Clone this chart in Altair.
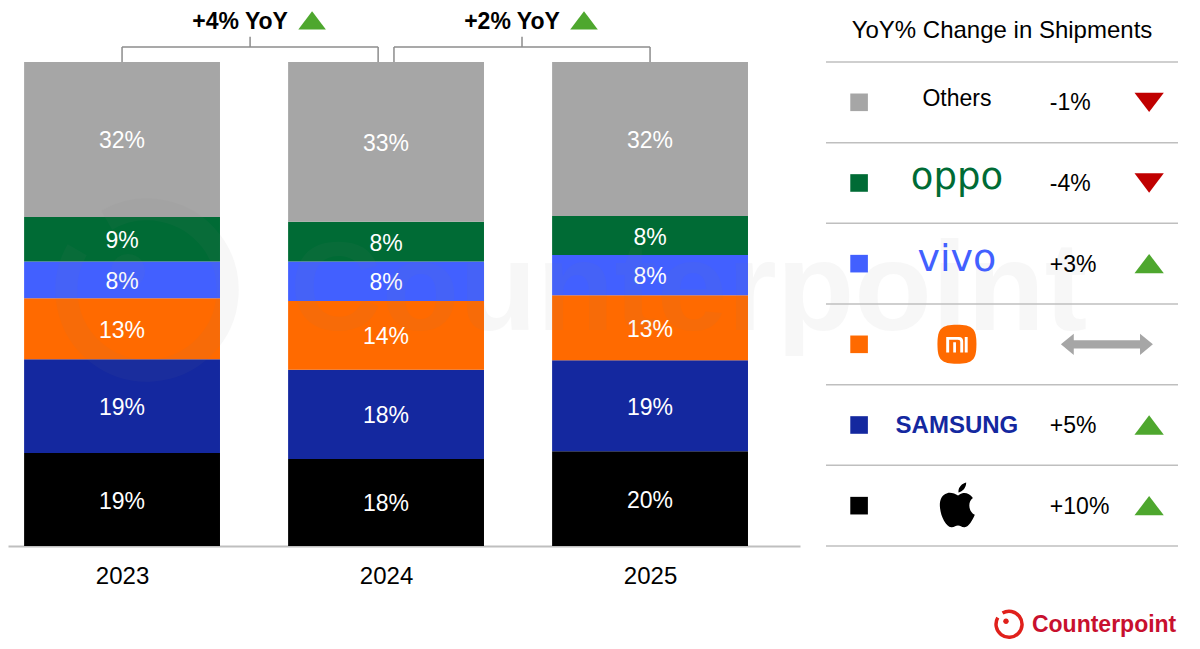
import altair as alt
import pandas as pd

# ---------------- data ----------------
years = [2023, 2024, 2025]
brands = ["Apple", "Samsung", "Xiaomi", "vivo", "OPPO", "Others"]          # bottom -> top
share_2023 = [19.2, 19.4, 12.6, 7.6, 9.2, 32.0]
share_2024 = [18.0, 18.4, 14.2, 8.2, 8.2, 33.0]
share_2025 = [19.6, 18.8, 13.4, 8.3, 8.1, 31.8]
yoy_change = [10, 5, 0, 3, -4, -1]                                          # 2025 vs 2024, per brand
brand_colors = ["#000000", "#14289f", "#ff6a00", "#4260ff", "#006b35", "#a6a6a6"]
period_from = [2023, 2024]
period_to = [2024, 2025]
period_yoy = [4, 2]
legend_title = "YoY% Change in Shipments"
source_name = "Counterpoint"

rows = []
for yr, shares in zip(years, [share_2023, share_2024, share_2025]):
    for i, (b, s) in enumerate(zip(brands, shares)):
        rows.append({"year": yr, "brand": b, "order": i, "share": s})
bars_df = pd.DataFrame(rows)

per_df = pd.DataFrame({"a": period_from, "b": period_to, "v": period_yoy})
per_df["left"] = [a + 0.03 if a in period_to else a for a in period_from]
per_df["right"] = [b - 0.03 if b in period_from else b for b in period_to]
per_df["mid"] = (per_df["left"] + per_df["right"]) / 2

tbl_df = pd.DataFrame({"brand": brands, "row": list(range(len(brands))), "yoy": yoy_change})

FONT = "Liberation Sans"
GREEN = "#4ea72e"
RED = "#c00000"

TRI_UP = "M 0 -0.66 L 1 0.66 L -1 0.66 Z"
TRI_DOWN = "M 0 0.66 L 1 -0.66 L -1 -0.66 Z"
DBL_ARROW = ("M -1 0 L -0.72 -0.23 L -0.72 -0.09 L 0.72 -0.09 L 0.72 -0.23 L 1 0 "
             "L 0.72 0.23 L 0.72 0.09 L -0.72 0.09 L -0.72 0.23 Z")
ROUND_SQ = ("M 0 -1 C 0.8 -1 1 -0.8 1 0 C 1 0.8 0.8 1 0 1 C -0.8 1 -1 0.8 -1 0 "
            "C -1 -0.8 -0.8 -1 0 -1 Z")
MI_GLYPH = ("M -0.55 0.42 L -0.55 -0.38 L 0.1 -0.38 C 0.26 -0.38 0.32 -0.3 0.32 -0.14 "
            "L 0.32 0.42 L 0.17 0.42 L 0.17 -0.12 C 0.17 -0.2 0.13 -0.24 0.05 -0.24 "
            "L -0.4 -0.24 L -0.4 0.42 Z "
            "M -0.19 -0.1 L -0.05 -0.1 L -0.05 0.42 L -0.19 0.42 Z "
            "M 0.4 -0.38 L 0.55 -0.38 L 0.55 0.42 L 0.4 0.42 Z")
APPLE = ("M 0 -0.42 C -0.12 -0.5 -0.3 -0.56 -0.45 -0.52 C -0.72 -0.45 -0.78 -0.15 -0.75 0.08 "
         "C -0.72 0.45 -0.5 0.88 -0.28 0.9 C -0.15 0.91 -0.1 0.83 0 0.83 "
         "C 0.1 0.83 0.15 0.91 0.28 0.9 C 0.45 0.88 0.6 0.62 0.7 0.38 "
         "C 0.45 0.28 0.38 -0.15 0.62 -0.32 C 0.5 -0.5 0.32 -0.56 0.18 -0.52 "
         "C 0.1 -0.5 0.06 -0.45 0 -0.42 Z "
         "M 0.02 -0.55 C 0 -0.75 0.16 -0.92 0.34 -0.96 C 0.35 -0.76 0.2 -0.58 0.02 -0.55 Z")
RING = "M -0.425 -0.736 A 0.85 0.85 0 1 1 -0.736 -0.425"
DOT = "M -0.02 -0.2 A 0.18 0.18 0 1 1 -0.38 -0.2 A 0.18 0.18 0 1 1 -0.02 -0.2 Z"

color_scale = alt.Scale(domain=brands, range=brand_colors)

# ---------------- left: stacked bars ----------------
xs = alt.Scale(domain=[2022.568, 2025.568], nice=False, zero=False)
ys = alt.Scale(domain=[0, 111.16], nice=False, zero=False)
x_axis = alt.Axis(values=years, format="d", title=None, grid=False, ticks=False, tickSize=0,
                  labelFontSize=24, labelColor="#000000", labelFont=FONT, labelPadding=18,
                  domainColor="#bfbfbf", domainWidth=2)

base = alt.Chart(bars_df).transform_stack(
    stack="share", as_=["y0", "y1"], groupby=["year"],
    sort=[alt.SortField("order", order="ascending")]
).transform_calculate(
    xl="datum.year - 0.371", xr="datum.year + 0.371",
    ym="(datum.y0 + datum.y1) / 2",
    lab="format(datum.share, '.0f') + '%'"
)

bars = base.mark_rect().encode(
    x=alt.X("xl:Q", scale=xs, axis=x_axis),
    x2="xr:Q",
    y=alt.Y("y0:Q", scale=ys, axis=None),
    y2="y1:Q",
    color=alt.Color("brand:N", scale=color_scale, legend=None),
)
bar_labels = base.mark_text(color="white", fontSize=23, font=FONT, baseline="middle", dy=2).encode(
    x=alt.X("year:Q", scale=xs, axis=x_axis),
    y=alt.Y("ym:Q", scale=ys, axis=None),
    text="lab:N",
)

per = alt.Chart(per_df)
br_style = dict(color="#8c8c8c", strokeWidth=1.5)
br_h = per.mark_rule(**br_style).encode(
    x=alt.X("left:Q", scale=xs, axis=x_axis), x2="right:Q",
    y=alt.YDatum(103.1, scale=ys, axis=None))
br_l = per.mark_rule(**br_style).encode(
    x=alt.X("left:Q", scale=xs, axis=x_axis),
    y=alt.YDatum(100, scale=ys, axis=None), y2=alt.datum(103.1))
br_r = per.mark_rule(**br_style).encode(
    x=alt.X("right:Q", scale=xs, axis=x_axis),
    y=alt.YDatum(100, scale=ys, axis=None), y2=alt.datum(103.1))
br_m = per.mark_rule(**br_style).encode(
    x=alt.X("mid:Q", scale=xs, axis=x_axis),
    y=alt.YDatum(103.1, scale=ys, axis=None), y2=alt.datum(105.2))
per_text = per.transform_calculate(t="'+' + datum.v + '% YoY'").mark_text(
    font=FONT, fontSize=23, fontWeight="bold", color="#000000", baseline="middle", dx=-10
).encode(x=alt.X("mid:Q", scale=xs, axis=x_axis),
         y=alt.YDatum(108.3, scale=ys, axis=None), text="t:N")
per_tri = per.mark_point(shape=TRI_UP, filled=True, color=GREEN, opacity=1, size=760,
                         xOffset=62, yOffset=0).encode(
    x=alt.X("mid:Q", scale=xs, axis=x_axis),
    y=alt.YDatum(108.6, scale=ys, axis=None))

wm_df = pd.DataFrame({"t": [source_name]})
wm = alt.Chart(wm_df)
wm_text = wm.mark_text(font=FONT, fontWeight="bold", fontSize=127, align="left",
                       baseline="alphabetic", color="#808080", opacity=0.06).encode(
    x=alt.value(282), y=alt.value(322), text="t:N")
wm_ring = wm.mark_point(shape=RING, filled=False, stroke="#808080", strokeWidth=22,
                        opacity=0.06, size=36000).encode(x=alt.value(139), y=alt.value(282))
wm_dot = wm.mark_point(shape=DOT, filled=True, color="#808080", opacity=0.06,
                       size=36000).encode(x=alt.value(139), y=alt.value(282))

left = alt.layer(bars, bar_labels, br_h, br_l, br_r, br_m, per_text, per_tri,
                 wm_ring, wm_dot, wm_text).properties(width=792, height=538)

# ---------------- right: YoY table ----------------
rx = alt.Scale(domain=[0, 1], nice=False, zero=False)
ry = alt.Scale(domain=[-1.1405, 6.669], nice=False, zero=False)


def RX(v):
    return alt.XDatum(v, scale=rx, axis=None)


def RY(field):
    return alt.Y(field, type="quantitative", scale=ry, axis=None)


def RYd(v):
    return alt.YDatum(v, scale=ry, axis=None)


tbl = alt.Chart(tbl_df).transform_calculate(
    yc="datum.row + 0.5", top="datum.row + 1",
    lab="(datum.yoy > 0 ? '+' : '') + datum.yoy + '%'"
)

lines = tbl.mark_rule(color="#bfbfbf", strokeWidth=1.5).encode(
    x=RX(0), x2=alt.datum(1), y=RY("row"))
top_line = tbl.transform_filter(alt.datum.row == len(brands) - 1).mark_rule(
    color="#bfbfbf", strokeWidth=1.5).encode(x=RX(0), x2=alt.datum(1), y=RY("top"))

markers = tbl.mark_point(shape="square", filled=True, opacity=1, size=310).encode(
    x=RX(0.094), y=RY("yc"),
    color=alt.Color("brand:N", scale=color_scale, legend=None))


def name_layer(brand, text, font, size, weight, color, dy):
    return tbl.transform_filter(alt.datum.brand == brand).transform_calculate(
        nm=f"'{text}'").mark_text(font=font, fontSize=size, fontWeight=weight, color=color,
                                  baseline="middle", dy=dy).encode(
        x=RX(0.372), y=RY("yc"), text="nm:N")


others_name = name_layer("Others", "Others", FONT, 23, "normal", "#000000", -3)
oppo_name = name_layer("OPPO", "oppo", "DejaVu Sans", 37, "normal", "#006b35", -5)
vivo_name = name_layer("vivo", "vivo", "DejaVu Sans", 38, "normal", "#4260ff", -4)
samsung_name = name_layer("Samsung", "SAMSUNG", FONT, 24, "bold", "#14289f", 1)

xi = tbl.transform_filter(alt.datum.brand == "Xiaomi")
xi_box = xi.mark_point(shape=ROUND_SQ, filled=True, color="#ff6a00", opacity=1, size=1521).encode(
    x=RX(0.372), y=RY("yc"))
xi_glyph = xi.mark_point(shape=MI_GLYPH, filled=True, color="#ffffff", opacity=1, size=1521).encode(
    x=RX(0.372), y=RY("yc"))
apple_logo = tbl.transform_filter(alt.datum.brand == "Apple").mark_point(
    shape=APPLE, filled=True, color="#000000", opacity=1, size=2304).encode(
    x=RX(0.375), y=RY("yc"))

yoy_text = tbl.transform_filter(alt.datum.yoy != 0).mark_text(
    font=FONT, fontSize=23, color="#000000", align="left", baseline="middle", dy=1).encode(
    x=RX(0.636), y=RY("yc"), text="lab:N")
tri_up = tbl.transform_filter(alt.datum.yoy > 0).mark_point(
    shape=TRI_UP, filled=True, color=GREEN, opacity=1, size=860).encode(
    x=RX(0.918), y=RY("yc"))
tri_down = tbl.transform_filter(alt.datum.yoy < 0).mark_point(
    shape=TRI_DOWN, filled=True, color=RED, opacity=1, size=860).encode(
    x=RX(0.918), y=RY("yc"))
flat = tbl.transform_filter(alt.datum.yoy == 0).mark_point(
    shape=DBL_ARROW, filled=True, color="#a6a6a6", opacity=1, size=8464).encode(
    x=RX(0.798), y=RY("yc"))

hdr_df = pd.DataFrame({"t": [legend_title]})
header = alt.Chart(hdr_df).mark_text(font=FONT, fontSize=24, color="#000000",
                                     baseline="middle").encode(
    x=RX(0.5), y=RYd(6.38), text="t:N")

logo_df = pd.DataFrame({"t": [source_name]})
logo = alt.Chart(logo_df)
logo_ring = logo.mark_point(shape=RING, filled=False, stroke="#e0201b", strokeWidth=3.5,
                            opacity=1, size=936).encode(x=RX(0.52), y=RYd(-0.97))
logo_dot = logo.mark_point(shape=DOT, filled=True, color="#e0201b", opacity=1,
                           size=936).encode(x=RX(0.52), y=RYd(-0.97))
logo_text = logo.mark_text(font=FONT, fontSize=23, fontWeight="bold", color="#c8102e",
                           align="left", baseline="middle").encode(
    x=RX(0.585), y=RYd(-0.985), text="t:N")

right = alt.layer(lines, top_line, markers, others_name, oppo_name, vivo_name, samsung_name,
                  xi_box, xi_glyph, apple_logo, yoy_text, tri_up, tri_down, flat, header,
                  logo_ring, logo_dot, logo_text).properties(width=352, height=630)

chart = alt.hconcat(left, right, spacing=26).properties(
    padding=0, bounds="flush", background="white"
).configure(font=FONT).configure_view(stroke=None)

chart.save("out.html", embed_options={"renderer": "svg", "actions": False})
